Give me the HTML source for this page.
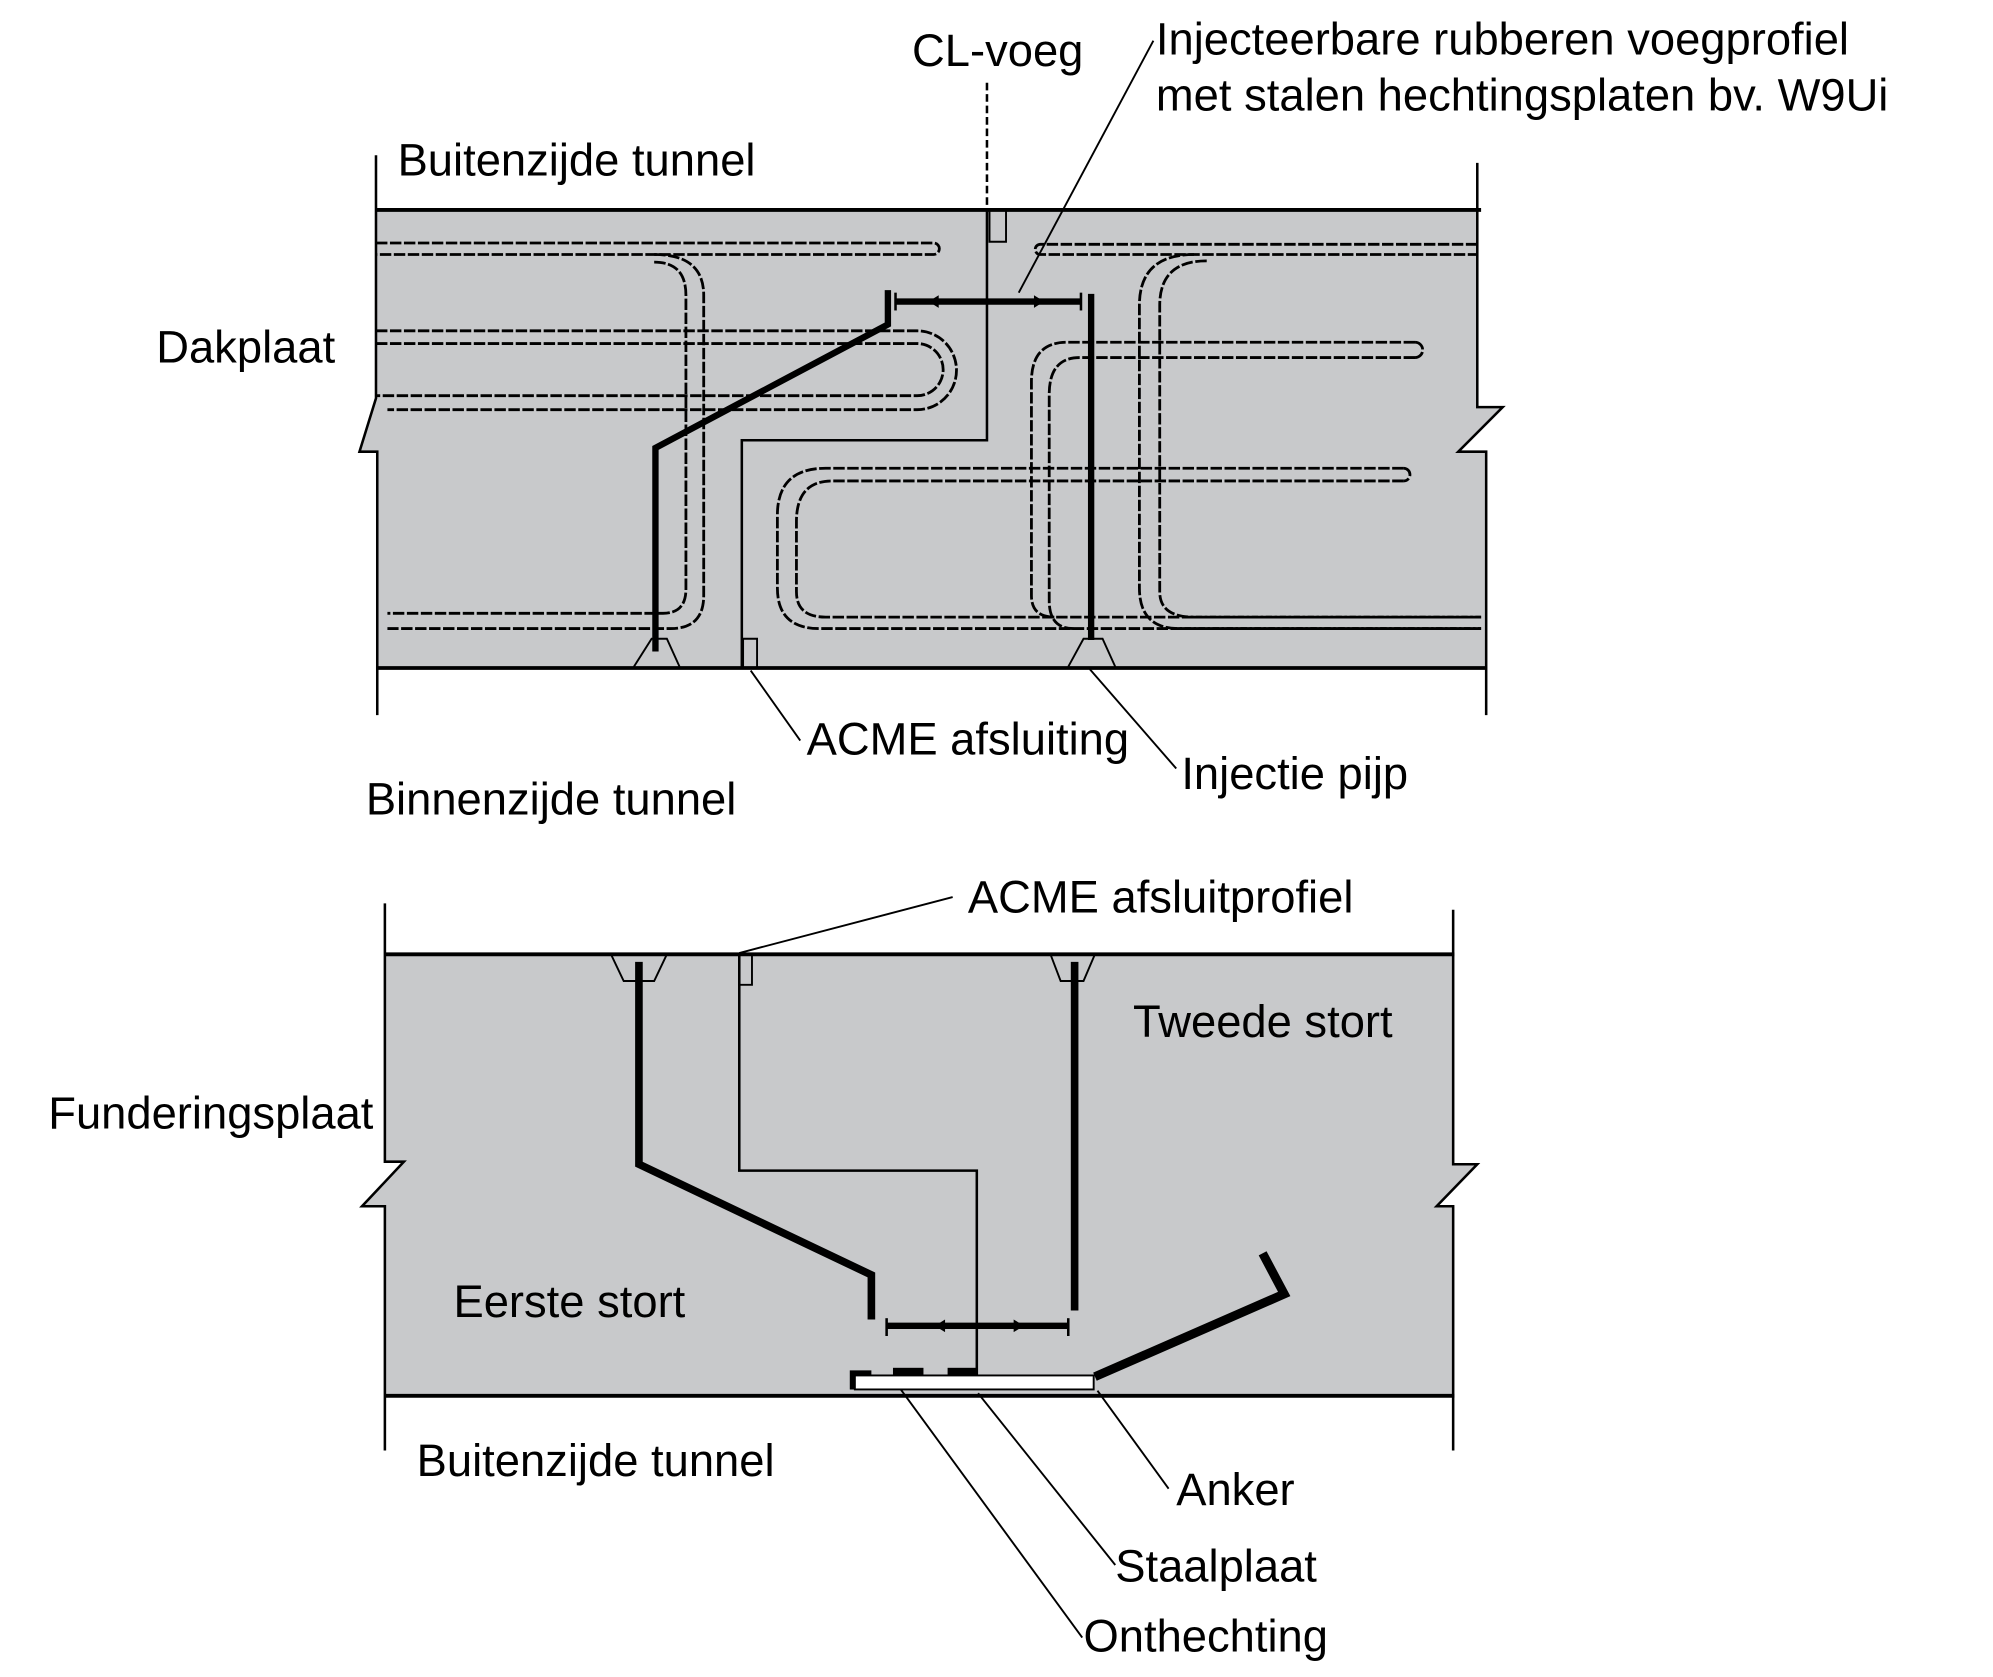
<!DOCTYPE html>
<html><head><meta charset="utf-8"><style>
html,body{margin:0;padding:0;background:#fff;}
svg{display:block;}
text{font-family:"Liberation Sans",Arial,sans-serif;font-size:35.7px;fill:#000;}
</style></head><body>
<svg width="1993" height="1677" viewBox="0 0 1569 1318" preserveAspectRatio="none" xmlns="http://www.w3.org/2000/svg">
<!-- TOP SLAB -->
<path d="M296 165 H1162 V320 H1183 L1148 355 H1170 V525 H296 V355 H283 L296 313 Z" fill="#c8c9cb" stroke="none"/>
<g stroke="#000" fill="none" stroke-width="2">
<line x1="296" y1="165" x2="1166" y2="165" stroke-width="3"/>
<line x1="296" y1="525" x2="1170" y2="525" stroke-width="3"/>
<path d="M296 122 V313 L283 355 H297 V562"/>
<path d="M1163 128 V320 H1183 L1148 355 H1170 V562"/>
<line x1="777" y1="65" x2="777" y2="165" stroke-dasharray="6 3"/>
<path d="M777 165 V346 H584 V525"/>
<path d="M779 165 V190 H792 V165" stroke-width="1.5"/>
<path d="M585 525 V502 H596 V525" stroke-width="1.5"/>
</g>
<!-- rebars top -->
<g stroke="#000" fill="none" stroke-width="2.2" stroke-dasharray="9 2">
<path d="M296 191 H735 A4.5 4.5 0 0 1 735 200 H296"/>
<path d="M515 200 Q554 200 554 232 V468 Q554 494 528 494 H305"/>
<path d="M515 206 Q540 206 540 232 V463 Q540 482 522 482 H305"/>
<path d="M296 260 H722 A31 31 0 0 1 722 322 H305"/>
<path d="M296 270 H722 A20.5 20.5 0 0 1 722 311 H296"/>
<path d="M1163 192 H819 A4 4 0 0 0 819 200 H1163"/>
<path d="M940 200 Q897 200 897 240 V462 Q897 494 928 494 H1166"/>
<path d="M950 205 Q913 205 913 240 V465 Q913 485 940 485 H1166"/>
<path d="M1114 269 H840 Q812 269 812 300 V468 Q812 485 830 485"/>
<path d="M1114 281 H850 Q826 281 826 310 V472 Q826 494 845 494"/>
<path d="M1114 269 A6 6 0 0 1 1114 281"/>
<path d="M1105 368 H650 Q612 368 612 405 V462 Q612 494 645 494 H1166"/>
<path d="M1105 378 H655 Q627 378 627 410 V465 Q627 485 650 485 H1166"/>
<path d="M1105 368 A5 5 0 0 1 1105 378"/>
</g>
<!-- injection top -->
<g stroke="#000" fill="none">
<path d="M699 228 V255 L516 352 V512" stroke-width="5"/>
<line x1="705" y1="237" x2="851" y2="237" stroke-width="5"/>
<line x1="705" y1="230" x2="705" y2="244" stroke-width="2"/>
<line x1="851" y1="230" x2="851" y2="244" stroke-width="2"/>
<line x1="859" y1="231" x2="859" y2="503" stroke-width="5"/>
<path d="M499 524 L513 502 H525 L535 524" stroke-width="1.5"/>
<path d="M841 524 L853 502 H868 L878 524" stroke-width="1.5"/>
<line x1="908" y1="32" x2="802" y2="230" stroke-width="1.5"/>
<line x1="591" y1="527" x2="630" y2="582" stroke-width="1.5"/>
<line x1="858" y1="526" x2="926" y2="604" stroke-width="1.5"/>
</g>
<path d="M731 237 l8 -5 v10 Z M822 237 l-8 -5 v10 Z" fill="#000"/>
<text x="718" y="52">CL-voeg</text>
<text x="910" y="43">Injecteerbare rubberen voegprofiel</text>
<text x="910" y="87">met stalen hechtingsplaten bv. W9Ui</text>
<text x="313" y="138">Buitenzijde tunnel</text>
<text x="123" y="285">Dakplaat</text>
<text x="635" y="593">ACME  afsluiting</text>
<text x="930" y="620">Injectie pijp</text>
<text x="288" y="640">Binnenzijde tunnel</text>

<!-- BOTTOM SLAB -->
<path d="M303 750 H1145 V915 H1163 L1131 948 H1145 V1097 H303 V948 H285 L318 913 H303 Z" fill="#c8c9cb"/>
<g stroke="#000" fill="none" stroke-width="2">
<line x1="303" y1="750" x2="1145" y2="750" stroke-width="3"/>
<line x1="303" y1="1097" x2="1145" y2="1097" stroke-width="3"/>
<path d="M303 710 V913 H318 L285 948 H303 V1140"/>
<path d="M1144 715 V915 H1163 L1131 948 H1144 V1140"/>
<path d="M582 750 V920 H769 V1082"/>
<path d="M582 750 V774 H592 V750" stroke-width="1.5"/>
<path d="M481 750 L491 771 H515 L525 750" stroke-width="1.5"/>
<path d="M827 750 L835 771 H853 L862 750" stroke-width="1.5"/>
</g>
<g stroke="#000" fill="none">
<path d="M503 756 V915 L686 1002 V1037" stroke-width="6"/>
<line x1="846" y1="756" x2="846" y2="1030" stroke-width="6"/>
<line x1="698" y1="1042" x2="841" y2="1042" stroke-width="5"/>
<line x1="698" y1="1036" x2="698" y2="1050" stroke-width="2"/>
<line x1="841" y1="1036" x2="841" y2="1050" stroke-width="2"/>
<path d="M862 1082 L1011 1017 L994 985" stroke-width="7"/>
<line x1="582" y1="749" x2="750" y2="705" stroke-width="1.5"/>
<line x1="704" y1="1085" x2="852" y2="1287" stroke-width="1.5"/>
<line x1="770" y1="1095" x2="878" y2="1230" stroke-width="1.5"/>
<line x1="864" y1="1093" x2="920" y2="1170" stroke-width="1.5"/>
</g>
<path d="M736 1042 l8 -5 v10 Z M806 1042 l-8 -5 v10 Z" fill="#000"/>
<rect x="673" y="1081" width="188" height="11" fill="#fff" stroke="#000" stroke-width="1.5"/>
<path d="M671 1092 V1079 H686" stroke="#000" stroke-width="4" fill="none"/>
<rect x="703" y="1075" width="24" height="6" fill="#000"/>
<rect x="746" y="1075" width="23" height="6" fill="#000"/>
<text x="762" y="717">ACME afsluitprofiel</text>
<text x="892" y="815">Tweede stort</text>
<text x="38" y="887">Funderingsplaat</text>
<text x="357" y="1035">Eerste stort</text>
<text x="328" y="1160">Buitenzijde tunnel</text>
<text x="926" y="1183">Anker</text>
<text x="878" y="1243">Staalplaat</text>
<text x="853" y="1298">Onthechting</text>
</svg>
</body></html>
